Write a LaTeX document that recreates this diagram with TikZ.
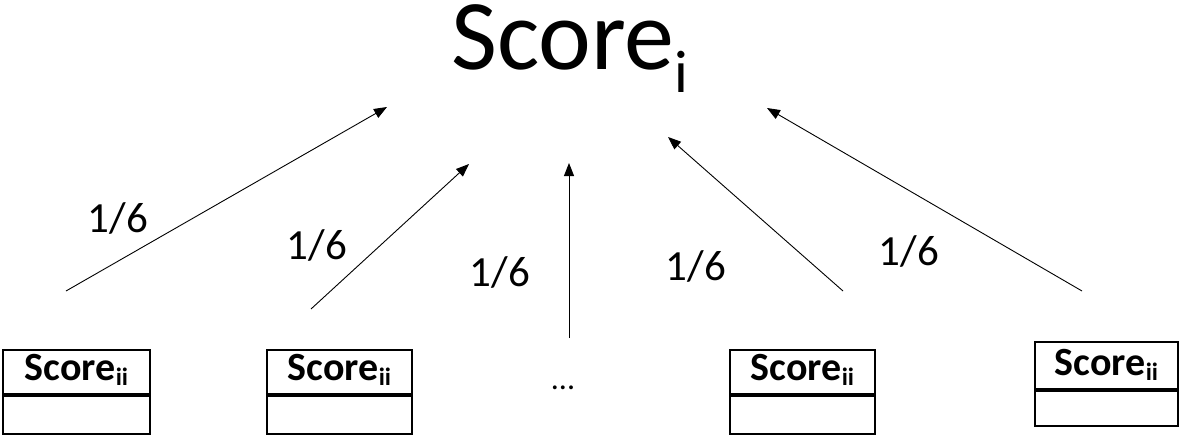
\documentclass[tikz,border=0pt]{standalone}
\usepackage{fontspec}
\setmainfont{Carlito}
\usetikzlibrary{arrows.meta}
\newcommand{\lowsub}[3]{\raisebox{-#1}{\fontsize{#2}{#2}\selectfont #3}}
\newcommand{\scoreii}{\textbf{Score\lowsub{5pt}{25}{ii}}}

\begin{document}
\begin{tikzpicture}[x=1pt,y=-1pt,
  cell/.style={draw=black,line width=1.8pt,inner sep=0pt,anchor=north,
               font=\fontsize{40}{40}\selectfont},
  weight/.style={inner sep=0pt,font=\fontsize{43}{43}\selectfont},
  link/.style={-{Triangle[length=13pt,width=10pt]},line width=0.9pt}]
  \useasboundingbox (0,0) rectangle (1180,436);
  \node[anchor=base west,inner sep=0pt,text height=64pt,text depth=24pt,
        font=\fontsize{100}{100}\selectfont]
     (top) at (451,70) {Score\lowsub{23pt}{60}{i}};
  % boxes
  \node[cell,minimum width=147pt,text height=31pt,text depth=13pt] (b1) at (76.5,349) {\scoreii};
  \node[cell,minimum width=147pt,minimum height=38pt] (b1x) at (b1.south) {};
  \node[cell,minimum width=145pt,text height=31pt,text depth=13pt] (b2) at (339.5,349) {\scoreii};
  \node[cell,minimum width=145pt,minimum height=38pt] (b2x) at (b2.south) {};
  \node[cell,minimum width=145pt,text height=31pt,text depth=13pt] (b3) at (802.5,349) {\scoreii};
  \node[cell,minimum width=145pt,minimum height=38pt] (b3x) at (b3.south) {};
  \node[cell,minimum width=143pt,text height=34pt,text depth=13pt] (b4) at (1106.5,341) {\scoreii};
  \node[cell,minimum width=143pt,minimum height=35pt] (b4x) at (b4.south) {};
  \node[anchor=base,inner sep=0pt,font=\fontsize{32}{32}\selectfont] (dots) at (563,389) {...};
  % arrow ends
  \coordinate (t1) at (66,291);   \coordinate (h1) at (387,107);
  \coordinate (t2) at (311,309);  \coordinate (h2) at (469,164);
  \coordinate (t3) at (569,338);  \coordinate (h3) at (569,163);
  \coordinate (t4) at (843,291);  \coordinate (h4) at (668,137);
  \coordinate (t5) at (1082,291); \coordinate (h5) at (767,108);
  \draw[link] (t1) -- (h1);
  \draw[link] (t2) -- (h2);
  \draw[link] (t3) -- (h3);
  \draw[link] (t4) -- (h4);
  \draw[link] (t5) -- (h5);
  % weights
  \node[weight] (w1) at (118,218) {1/6};
  \node[weight] (w2) at (317,245) {1/6};
  \node[weight] (w3) at (500,272) {1/6};
  \node[weight] (w4) at (696,266) {1/6};
  \node[weight] (w5) at (909,251) {1/6};
\end{tikzpicture}
\end{document}
